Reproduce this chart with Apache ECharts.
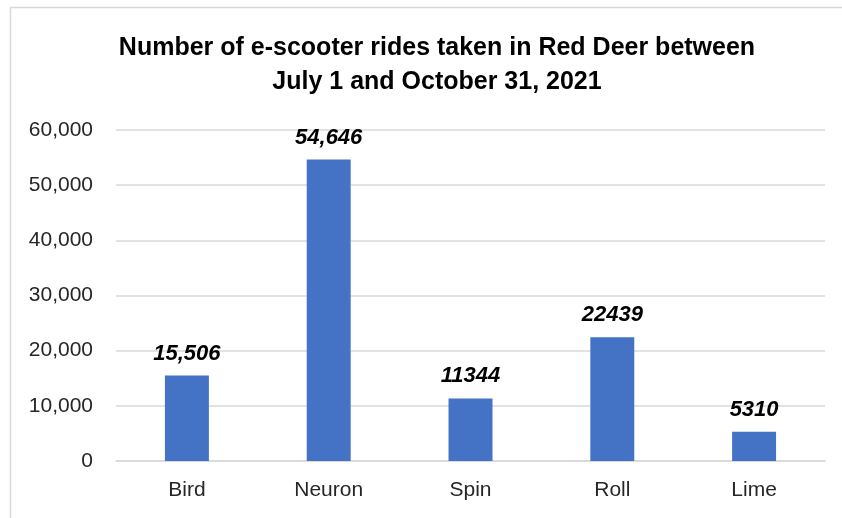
<!DOCTYPE html>
<html>
<head>
<meta charset="utf-8">
<script src="https://cdn.jsdelivr.net/npm/echarts@6/dist/echarts.min.js"></script>
<style>
  html,body{margin:0;padding:0;background:#fff;}
  #chart{width:842px;height:518px;}
</style>
</head>
<body>
<div id="chart"></div>
<script>
// e-scooter rides by operator
var categories = ['Bird', 'Neuron', 'Spin', 'Roll', 'Lime'];
var rides      = [15506, 54646, 11344, 22439, 5310];
var rideLabels = ['15,506', '54,646', '11344', '22439', '5310'];
var yTicks     = [0, 10000, 20000, 30000, 40000, 50000, 60000];

var myChart = echarts.init(document.getElementById('chart'));
var option = {
    backgroundColor: '#fff',
    animation: false,
    title: {
        text: 'Number of e-scooter rides taken in Red Deer between\nJuly 1 and October 31, 2021',
        left: 432,
        textAlign: 'center',
        top: 26,
        padding: 5,
        textStyle: {
            fontFamily: 'Liberation Sans',
            fontWeight: 'bold',
            fontSize: 25,
            lineHeight: 34,
            color: '#000'
        }
    },
    graphic: [{
        type: 'rect',
        shape: { x: 10.5, y: 7.5, width: 900, height: 600 },
        style: { fill: 'none', stroke: '#d9d9d9', lineWidth: 1.5 },
        silent: true
    }],
    grid: {
        left: 116,
        right: 17,
        top: 130,
        bottom: 57,
        containLabel: false
    },
    xAxis: {
        type: 'category',
        data: categories,
        axisLine: { show: true, lineStyle: { color: '#d9d9d9', width: 1.5 } },
        axisTick: { show: false },
        axisLabel: {
            margin: 19,
            fontFamily: 'Liberation Sans',
            fontSize: 21,
            color: '#262626'
        }
    },
    yAxis: {
        type: 'value',
        min: yTicks[0],
        max: yTicks[yTicks.length - 1],
        interval: 10000,
        axisLine: { show: false },
        axisTick: { show: false },
        splitLine: { lineStyle: { color: '#d9d9d9', width: 1.5 } },
        axisLabel: {
            margin: 23,
            fontFamily: 'Liberation Sans',
            fontSize: 21,
            color: '#262626',
            formatter: function(v){
                return v.toLocaleString('en-US');
            }
        }
    },
    series: [{
        type: 'bar',
        data: rides,
        barWidth: '31%',
        itemStyle: { color: '#4472c4' },
        label: {
            show: true,
            position: 'top',
            distance: 11,
            fontFamily: 'Liberation Sans',
            fontWeight: 'bold',
            fontStyle: 'italic',
            fontSize: 22,
            color: '#000',
            formatter: function(p){
                return rideLabels[p.dataIndex];
            }
        }
    }]
};
myChart.setOption(option);
</script>
</body>
</html>
